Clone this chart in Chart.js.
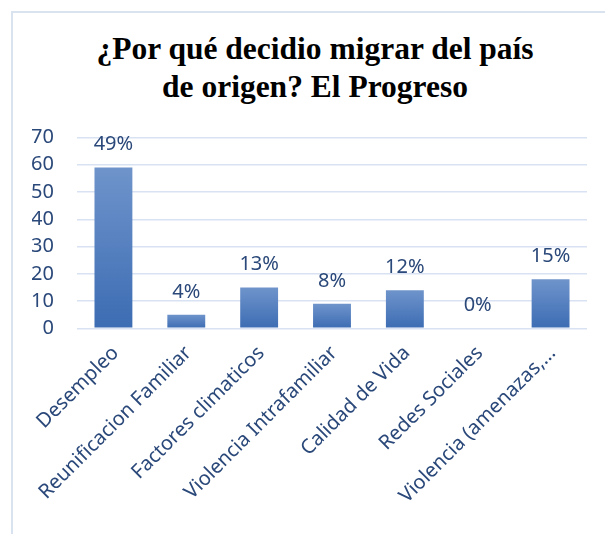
<!DOCTYPE html>
<html lang="es">
  <head>
    <meta charset="UTF-8" />
    <title>Por qué decidio migrar</title>
    <script src="https://cdn.jsdelivr.net/npm/chart.js"></script>
    <style>
      html,
      body {
        margin: 0;
        padding: 0;
        background: #ffffff;
        width: 605px;
        height: 534px;
        overflow: hidden;
      }
      .frame {
        position: absolute;
        left: 11px;
        top: 11px;
        width: 620px;
        height: 540px;
        border-left: 2px solid #d9e2ef;
        border-top: 2px solid #d9e2ef;
      }
      .chart-title {
        position: absolute;
        left: 0;
        top: 30px;
        width: 630px;
        text-align: center;
        font-family: "Liberation Serif", serif;
        font-weight: bold;
        font-size: 31.5px;
        line-height: 38px;
        color: #000;
        white-space: nowrap;
      }
      #migrarChart {
        position: absolute;
        left: 13px;
        top: 13px;
      }
    </style>
  </head>
  <body>
    <div class="frame"></div>
    <div class="chart-title" id="chartTitle"></div>
    <canvas id="migrarChart" width="606" height="560"></canvas>

    <script>
      // data
      const categories = [
        "Desempleo",
        "Reunificacion Familiar",
        "Factores climaticos",
        "Violencia Intrafamiliar",
        "Calidad de Vida",
        "Redes Sociales",
        "Violencia (amenazas,...",
      ];
      const counts = [59, 5, 15, 9, 14, 0, 18];
      const yTicks = [0, 10, 20, 30, 40, 50, 60, 70];
      const titleLines = ["¿Por qué decidio migrar del país", "de origen? El Progreso"];

      const textColor = "#2a4879";
      const gridColor = "#d9e2f3";

      // title as two lines of html text
      const titleEl = document.getElementById("chartTitle");
      titleLines.forEach((line) => {
        const d = document.createElement("div");
        d.textContent = line;
        titleEl.appendChild(d);
      });

      // each bar gets its own light-top / dark-bottom gradient
      function barGradient(ctx) {
        const chart = ctx.chart;
        const y = chart.scales.y;
        if (!chart.chartArea || !y) return "#4a77bd";
        const top = y.getPixelForValue(ctx.raw);
        const bottom = y.getPixelForValue(0);
        if (bottom - top < 1) return "#4a77bd";
        const g = chart.ctx.createLinearGradient(0, top, 0, bottom);
        g.addColorStop(0, "#6f94cb");
        g.addColorStop(1, "#3c6cb3");
        return g;
      }

      // percent labels above the bars
      const percentLabels = {
        id: "percentLabels",
        afterDatasetsDraw(chart) {
          const c = chart.ctx;
          const meta = chart.getDatasetMeta(0);
          const data = chart.data.datasets[0].data;
          const total = data.reduce((a, b) => a + b, 0);
          c.save();
          c.font = "20px 'Noto Sans'";
          c.fillStyle = textColor;
          c.textAlign = "center";
          c.textBaseline = "alphabetic";
          meta.data.forEach((bar, i) => {
            const pct = Math.round((data[i] / total) * 100) + "%";
            c.fillText(pct, bar.x, bar.y - 17);
          });
          c.restore();
        },
      };

      new Chart(document.getElementById("migrarChart"), {
        type: "bar",
        data: {
          labels: categories,
          datasets: [
            {
              data: counts,
              backgroundColor: barGradient,
              borderWidth: 0,
              barPercentage: 0.52,
              categoryPercentage: 1,
            },
          ],
        },
        options: {
          responsive: false,
          animation: false,
          layout: {
            padding: { left: 19, right: 32, top: 124.5, bottom: 60 },
          },
          plugins: {
            legend: { display: false },
            tooltip: { enabled: false },
            title: { display: false },
          },
          scales: {
            y: {
              min: 0,
              max: 70,
              afterBuildTicks: (axis) => {
                axis.ticks = yTicks.map((v) => ({ value: v }));
              },
              // padding only once on the label side
              afterFit: (scale) => {
                scale.width = 45;
              },
              grid: {
                color: gridColor,
                lineWidth: 1.5,
                drawTicks: false,
              },
              border: { display: false },
              ticks: {
                color: textColor,
                padding: 23,
                font: { family: "'Noto Sans', sans-serif", size: 20 },
              },
            },
            x: {
              grid: { display: false },
              border: { display: false },
              // rotated labels may hang left past the plot, like the original
              afterFit: (scale) => {
                scale.paddingLeft = 0;
              },
              ticks: {
                color: textColor,
                autoSkip: false,
                minRotation: 45,
                maxRotation: 45,
                padding: 5,
                labelOffset: 2,
                font: { family: "'Noto Sans', sans-serif", size: 20 },
              },
            },
          },
        },
        plugins: [percentLabels],
      });
    </script>
  </body>
</html>
